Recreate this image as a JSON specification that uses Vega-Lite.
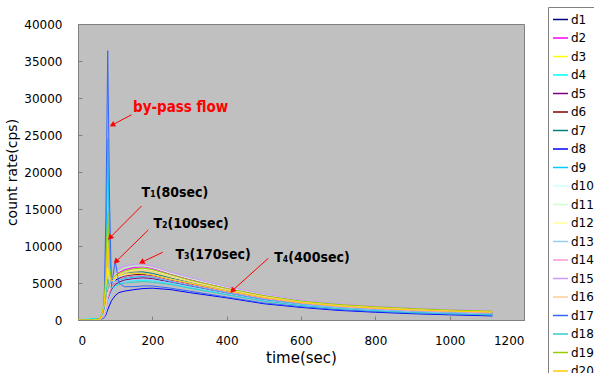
{
  "$schema": "https://vega.github.io/schema/vega-lite/v6.json",
  "width": 446,
  "height": 296,
  "autosize": {"type": "none"},
  "padding": {"left": 78, "top": 24, "right": 70, "bottom": 53},
  "background": "white",
  "config": {
    "view": {"fill": "#c0c0c0", "stroke": "#808080", "strokeWidth": 1},
    "axis": {
      "grid": false,
      "domainColor": "#808080",
      "tickColor": "#808080",
      "tickSize": -4,
      "labelOverlap": false,
      "labelFont": "DejaVu Sans",
      "labelFontSize": 12,
      "labelColor": "#000000",
      "titleFont": "DejaVu Sans",
      "titleFontWeight": "normal",
      "titleColor": "#000000"
    }
  },
  "datasets": {
    "series": [
      {"s":"d1","t":0,"v":0},{"s":"d1","t":40,"v":0},{"s":"d1","t":60,"v":100},{"s":"d1","t":70,"v":800},{"s":"d1","t":75,"v":1800},{"s":"d1","t":80,"v":3500},{"s":"d1","t":85,"v":4200},{"s":"d1","t":90,"v":4800},{"s":"d1","t":100,"v":5400},{"s":"d1","t":110,"v":5600},{"s":"d1","t":125,"v":5800},{"s":"d1","t":150,"v":6000},{"s":"d1","t":175,"v":6000},{"s":"d1","t":200,"v":5900},{"s":"d1","t":250,"v":5300},{"s":"d1","t":300,"v":4800},{"s":"d1","t":400,"v":3800},{"s":"d1","t":500,"v":2900},{"s":"d1","t":600,"v":2200},{"s":"d1","t":700,"v":1800},{"s":"d1","t":800,"v":1500},{"s":"d1","t":900,"v":1250},{"s":"d1","t":1000,"v":1100},{"s":"d1","t":1115,"v":950},
      {"s":"d2","t":0,"v":0},{"s":"d2","t":40,"v":0},{"s":"d2","t":60,"v":50},{"s":"d2","t":70,"v":600},{"s":"d2","t":75,"v":1500},{"s":"d2","t":80,"v":3000},{"s":"d2","t":85,"v":4000},{"s":"d2","t":90,"v":5000},{"s":"d2","t":100,"v":6000},{"s":"d2","t":110,"v":6400},{"s":"d2","t":125,"v":6800},{"s":"d2","t":150,"v":7100},{"s":"d2","t":175,"v":7200},{"s":"d2","t":200,"v":7000},{"s":"d2","t":250,"v":6200},{"s":"d2","t":300,"v":5500},{"s":"d2","t":400,"v":4300},{"s":"d2","t":500,"v":3300},{"s":"d2","t":600,"v":2600},{"s":"d2","t":700,"v":2100},{"s":"d2","t":800,"v":1800},{"s":"d2","t":900,"v":1550},{"s":"d2","t":1000,"v":1350},{"s":"d2","t":1115,"v":1200},
      {"s":"d3","t":0,"v":0},{"s":"d3","t":40,"v":50},{"s":"d3","t":60,"v":200},{"s":"d3","t":70,"v":1500},{"s":"d3","t":75,"v":4000},{"s":"d3","t":80,"v":7000},{"s":"d3","t":85,"v":5500},{"s":"d3","t":90,"v":5200},{"s":"d3","t":100,"v":5800},{"s":"d3","t":110,"v":6100},{"s":"d3","t":125,"v":6400},{"s":"d3","t":150,"v":6700},{"s":"d3","t":175,"v":6700},{"s":"d3","t":200,"v":6500},{"s":"d3","t":250,"v":5800},{"s":"d3","t":300,"v":5200},{"s":"d3","t":400,"v":4100},{"s":"d3","t":500,"v":3100},{"s":"d3","t":600,"v":2500},{"s":"d3","t":700,"v":2000},{"s":"d3","t":800,"v":1700},{"s":"d3","t":900,"v":1450},{"s":"d3","t":1000,"v":1300},{"s":"d3","t":1115,"v":1150},
      {"s":"d4","t":0,"v":0},{"s":"d4","t":40,"v":200},{"s":"d4","t":60,"v":150},{"s":"d4","t":70,"v":500},{"s":"d4","t":75,"v":1200},{"s":"d4","t":80,"v":2500},{"s":"d4","t":85,"v":3200},{"s":"d4","t":90,"v":3800},{"s":"d4","t":100,"v":4500},{"s":"d4","t":110,"v":4900},{"s":"d4","t":125,"v":5200},{"s":"d4","t":150,"v":5300},{"s":"d4","t":175,"v":5400},{"s":"d4","t":200,"v":5300},{"s":"d4","t":250,"v":4900},{"s":"d4","t":300,"v":4400},{"s":"d4","t":400,"v":3500},{"s":"d4","t":500,"v":2600},{"s":"d4","t":600,"v":2000},{"s":"d4","t":700,"v":1600},{"s":"d4","t":800,"v":1300},{"s":"d4","t":900,"v":1050},{"s":"d4","t":1000,"v":900},{"s":"d4","t":1115,"v":750},
      {"s":"d5","t":0,"v":0},{"s":"d5","t":40,"v":0},{"s":"d5","t":60,"v":100},{"s":"d5","t":70,"v":700},{"s":"d5","t":75,"v":1500},{"s":"d5","t":80,"v":2800},{"s":"d5","t":85,"v":3500},{"s":"d5","t":90,"v":4100},{"s":"d5","t":100,"v":4800},{"s":"d5","t":110,"v":5100},{"s":"d5","t":125,"v":5400},{"s":"d5","t":150,"v":5600},{"s":"d5","t":175,"v":5700},{"s":"d5","t":200,"v":5600},{"s":"d5","t":250,"v":5100},{"s":"d5","t":300,"v":4600},{"s":"d5","t":400,"v":3600},{"s":"d5","t":500,"v":2700},{"s":"d5","t":600,"v":2100},{"s":"d5","t":700,"v":1700},{"s":"d5","t":800,"v":1400},{"s":"d5","t":900,"v":1150},{"s":"d5","t":1000,"v":1000},{"s":"d5","t":1115,"v":850},
      {"s":"d6","t":0,"v":0},{"s":"d6","t":40,"v":0},{"s":"d6","t":60,"v":80},{"s":"d6","t":70,"v":600},{"s":"d6","t":75,"v":1400},{"s":"d6","t":80,"v":3000},{"s":"d6","t":85,"v":3800},{"s":"d6","t":90,"v":4500},{"s":"d6","t":100,"v":5200},{"s":"d6","t":110,"v":5600},{"s":"d6","t":125,"v":5900},{"s":"d6","t":150,"v":6100},{"s":"d6","t":175,"v":6200},{"s":"d6","t":200,"v":6000},{"s":"d6","t":250,"v":5400},{"s":"d6","t":300,"v":4900},{"s":"d6","t":400,"v":3900},{"s":"d6","t":500,"v":3000},{"s":"d6","t":600,"v":2300},{"s":"d6","t":700,"v":1850},{"s":"d6","t":800,"v":1550},{"s":"d6","t":900,"v":1300},{"s":"d6","t":1000,"v":1150},{"s":"d6","t":1115,"v":1000},
      {"s":"d7","t":0,"v":0},{"s":"d7","t":40,"v":0},{"s":"d7","t":60,"v":120},{"s":"d7","t":70,"v":900},{"s":"d7","t":75,"v":2000},{"s":"d7","t":80,"v":3800},{"s":"d7","t":85,"v":4600},{"s":"d7","t":90,"v":5200},{"s":"d7","t":100,"v":5900},{"s":"d7","t":110,"v":6200},{"s":"d7","t":125,"v":6400},{"s":"d7","t":150,"v":6500},{"s":"d7","t":175,"v":6500},{"s":"d7","t":200,"v":6300},{"s":"d7","t":250,"v":5700},{"s":"d7","t":300,"v":5100},{"s":"d7","t":400,"v":4000},{"s":"d7","t":500,"v":3100},{"s":"d7","t":600,"v":2400},{"s":"d7","t":700,"v":1950},{"s":"d7","t":800,"v":1650},{"s":"d7","t":900,"v":1400},{"s":"d7","t":1000,"v":1250},{"s":"d7","t":1115,"v":1100},
      {"s":"d8","t":0,"v":0},{"s":"d8","t":40,"v":0},{"s":"d8","t":60,"v":50},{"s":"d8","t":70,"v":300},{"s":"d8","t":75,"v":700},{"s":"d8","t":80,"v":1400},{"s":"d8","t":85,"v":2000},{"s":"d8","t":90,"v":2600},{"s":"d8","t":100,"v":3300},{"s":"d8","t":110,"v":3700},{"s":"d8","t":125,"v":3900},{"s":"d8","t":150,"v":4100},{"s":"d8","t":175,"v":4250},{"s":"d8","t":200,"v":4300},{"s":"d8","t":250,"v":4100},{"s":"d8","t":300,"v":3700},{"s":"d8","t":400,"v":3000},{"s":"d8","t":500,"v":2200},{"s":"d8","t":600,"v":1700},{"s":"d8","t":700,"v":1300},{"s":"d8","t":800,"v":1050},{"s":"d8","t":900,"v":850},{"s":"d8","t":1000,"v":700},{"s":"d8","t":1115,"v":550},
      {"s":"d9","t":0,"v":0},{"s":"d9","t":40,"v":100},{"s":"d9","t":60,"v":150},{"s":"d9","t":70,"v":1500},{"s":"d9","t":75,"v":8000},{"s":"d9","t":80,"v":24500},{"s":"d9","t":85,"v":9000},{"s":"d9","t":90,"v":5000},{"s":"d9","t":100,"v":5200},{"s":"d9","t":110,"v":5400},{"s":"d9","t":125,"v":5600},{"s":"d9","t":150,"v":5800},{"s":"d9","t":175,"v":5900},{"s":"d9","t":200,"v":5800},{"s":"d9","t":250,"v":5200},{"s":"d9","t":300,"v":4700},{"s":"d9","t":400,"v":3700},{"s":"d9","t":500,"v":2800},{"s":"d9","t":600,"v":2150},{"s":"d9","t":700,"v":1750},{"s":"d9","t":800,"v":1450},{"s":"d9","t":900,"v":1200},{"s":"d9","t":1000,"v":1050},{"s":"d9","t":1115,"v":900},
      {"s":"d10","t":0,"v":0},{"s":"d10","t":40,"v":0},{"s":"d10","t":60,"v":100},{"s":"d10","t":70,"v":700},{"s":"d10","t":75,"v":1600},{"s":"d10","t":80,"v":3200},{"s":"d10","t":85,"v":4000},{"s":"d10","t":90,"v":4700},{"s":"d10","t":100,"v":5500},{"s":"d10","t":110,"v":5900},{"s":"d10","t":125,"v":6100},{"s":"d10","t":150,"v":6300},{"s":"d10","t":175,"v":6300},{"s":"d10","t":200,"v":6100},{"s":"d10","t":250,"v":5500},{"s":"d10","t":300,"v":5000},{"s":"d10","t":400,"v":3950},{"s":"d10","t":500,"v":3050},{"s":"d10","t":600,"v":2350},{"s":"d10","t":700,"v":1900},{"s":"d10","t":800,"v":1600},{"s":"d10","t":900,"v":1350},{"s":"d10","t":1000,"v":1200},{"s":"d10","t":1115,"v":1050},
      {"s":"d11","t":0,"v":0},{"s":"d11","t":40,"v":0},{"s":"d11","t":60,"v":100},{"s":"d11","t":70,"v":800},{"s":"d11","t":75,"v":1900},{"s":"d11","t":80,"v":3600},{"s":"d11","t":85,"v":4500},{"s":"d11","t":90,"v":5300},{"s":"d11","t":100,"v":6200},{"s":"d11","t":110,"v":6600},{"s":"d11","t":125,"v":7000},{"s":"d11","t":150,"v":7300},{"s":"d11","t":175,"v":7300},{"s":"d11","t":200,"v":7100},{"s":"d11","t":250,"v":6300},{"s":"d11","t":300,"v":5600},{"s":"d11","t":400,"v":4400},{"s":"d11","t":500,"v":3400},{"s":"d11","t":600,"v":2650},{"s":"d11","t":700,"v":2150},{"s":"d11","t":800,"v":1850},{"s":"d11","t":900,"v":1600},{"s":"d11","t":1000,"v":1400},{"s":"d11","t":1115,"v":1250},
      {"s":"d12","t":0,"v":0},{"s":"d12","t":40,"v":0},{"s":"d12","t":60,"v":80},{"s":"d12","t":70,"v":700},{"s":"d12","t":75,"v":1700},{"s":"d12","t":80,"v":3400},{"s":"d12","t":85,"v":4300},{"s":"d12","t":90,"v":5000},{"s":"d12","t":100,"v":5900},{"s":"d12","t":110,"v":6200},{"s":"d12","t":125,"v":6500},{"s":"d12","t":150,"v":6800},{"s":"d12","t":175,"v":6900},{"s":"d12","t":200,"v":6700},{"s":"d12","t":250,"v":6000},{"s":"d12","t":300,"v":5300},{"s":"d12","t":400,"v":4200},{"s":"d12","t":500,"v":3200},{"s":"d12","t":600,"v":2500},{"s":"d12","t":700,"v":2050},{"s":"d12","t":800,"v":1750},{"s":"d12","t":900,"v":1500},{"s":"d12","t":1000,"v":1300},{"s":"d12","t":1115,"v":1150},
      {"s":"d13","t":0,"v":0},{"s":"d13","t":40,"v":0},{"s":"d13","t":60,"v":60},{"s":"d13","t":70,"v":400},{"s":"d13","t":75,"v":1000},{"s":"d13","t":80,"v":2200},{"s":"d13","t":85,"v":3000},{"s":"d13","t":90,"v":3700},{"s":"d13","t":100,"v":4500},{"s":"d13","t":110,"v":4900},{"s":"d13","t":125,"v":5200},{"s":"d13","t":150,"v":5400},{"s":"d13","t":175,"v":5500},{"s":"d13","t":200,"v":5400},{"s":"d13","t":250,"v":5000},{"s":"d13","t":300,"v":4500},{"s":"d13","t":400,"v":3550},{"s":"d13","t":500,"v":2650},{"s":"d13","t":600,"v":2050},{"s":"d13","t":700,"v":1650},{"s":"d13","t":800,"v":1350},{"s":"d13","t":900,"v":1100},{"s":"d13","t":1000,"v":950},{"s":"d13","t":1115,"v":800},
      {"s":"d14","t":0,"v":0},{"s":"d14","t":40,"v":0},{"s":"d14","t":60,"v":90},{"s":"d14","t":70,"v":600},{"s":"d14","t":75,"v":1400},{"s":"d14","t":80,"v":2900},{"s":"d14","t":85,"v":3700},{"s":"d14","t":90,"v":4400},{"s":"d14","t":100,"v":5200},{"s":"d14","t":110,"v":5500},{"s":"d14","t":125,"v":5800},{"s":"d14","t":150,"v":6000},{"s":"d14","t":175,"v":6000},{"s":"d14","t":200,"v":5900},{"s":"d14","t":250,"v":5300},{"s":"d14","t":300,"v":4800},{"s":"d14","t":400,"v":3800},{"s":"d14","t":500,"v":2900},{"s":"d14","t":600,"v":2250},{"s":"d14","t":700,"v":1800},{"s":"d14","t":800,"v":1500},{"s":"d14","t":900,"v":1250},{"s":"d14","t":1000,"v":1100},{"s":"d14","t":1115,"v":950},
      {"s":"d15","t":0,"v":0},{"s":"d15","t":40,"v":0},{"s":"d15","t":60,"v":100},{"s":"d15","t":70,"v":700},{"s":"d15","t":75,"v":1700},{"s":"d15","t":80,"v":3400},{"s":"d15","t":85,"v":4500},{"s":"d15","t":90,"v":5500},{"s":"d15","t":100,"v":6500},{"s":"d15","t":110,"v":7000},{"s":"d15","t":125,"v":7300},{"s":"d15","t":150,"v":7500},{"s":"d15","t":175,"v":7600},{"s":"d15","t":200,"v":7300},{"s":"d15","t":250,"v":6500},{"s":"d15","t":300,"v":5800},{"s":"d15","t":400,"v":4500},{"s":"d15","t":500,"v":3500},{"s":"d15","t":600,"v":2700},{"s":"d15","t":700,"v":2200},{"s":"d15","t":800,"v":1900},{"s":"d15","t":900,"v":1650},{"s":"d15","t":1000,"v":1450},{"s":"d15","t":1115,"v":1300},
      {"s":"d16","t":0,"v":0},{"s":"d16","t":40,"v":0},{"s":"d16","t":60,"v":90},{"s":"d16","t":70,"v":800},{"s":"d16","t":75,"v":1800},{"s":"d16","t":80,"v":3500},{"s":"d16","t":85,"v":4300},{"s":"d16","t":90,"v":5000},{"s":"d16","t":100,"v":5800},{"s":"d16","t":110,"v":6100},{"s":"d16","t":125,"v":6400},{"s":"d16","t":150,"v":6600},{"s":"d16","t":175,"v":6700},{"s":"d16","t":200,"v":6500},{"s":"d16","t":250,"v":5800},{"s":"d16","t":300,"v":5200},{"s":"d16","t":400,"v":4100},{"s":"d16","t":500,"v":3150},{"s":"d16","t":600,"v":2450},{"s":"d16","t":700,"v":2000},{"s":"d16","t":800,"v":1700},{"s":"d16","t":900,"v":1450},{"s":"d16","t":1000,"v":1300},{"s":"d16","t":1115,"v":1150},
      {"s":"d17","t":0,"v":0},{"s":"d17","t":40,"v":0},{"s":"d17","t":60,"v":200},{"s":"d17","t":70,"v":1500},{"s":"d17","t":75,"v":14000},{"s":"d17","t":80,"v":36400},{"s":"d17","t":85,"v":16000},{"s":"d17","t":90,"v":4500},{"s":"d17","t":100,"v":8000},{"s":"d17","t":110,"v":5000},{"s":"d17","t":125,"v":4500},{"s":"d17","t":150,"v":4500},{"s":"d17","t":175,"v":4600},{"s":"d17","t":200,"v":4600},{"s":"d17","t":250,"v":4300},{"s":"d17","t":300,"v":3900},{"s":"d17","t":400,"v":3100},{"s":"d17","t":500,"v":2300},{"s":"d17","t":600,"v":1800},{"s":"d17","t":700,"v":1400},{"s":"d17","t":800,"v":1150},{"s":"d17","t":900,"v":950},{"s":"d17","t":1000,"v":800},{"s":"d17","t":1115,"v":650},
      {"s":"d18","t":0,"v":0},{"s":"d18","t":40,"v":0},{"s":"d18","t":60,"v":150},{"s":"d18","t":70,"v":1500},{"s":"d18","t":75,"v":3500},{"s":"d18","t":80,"v":5500},{"s":"d18","t":85,"v":4500},{"s":"d18","t":90,"v":4300},{"s":"d18","t":100,"v":4600},{"s":"d18","t":110,"v":4800},{"s":"d18","t":125,"v":5000},{"s":"d18","t":150,"v":5100},{"s":"d18","t":175,"v":5200},{"s":"d18","t":200,"v":5100},{"s":"d18","t":250,"v":4800},{"s":"d18","t":300,"v":4300},{"s":"d18","t":400,"v":3400},{"s":"d18","t":500,"v":2550},{"s":"d18","t":600,"v":1950},{"s":"d18","t":700,"v":1550},{"s":"d18","t":800,"v":1250},{"s":"d18","t":900,"v":1000},{"s":"d18","t":1000,"v":850},{"s":"d18","t":1115,"v":700},
      {"s":"d19","t":0,"v":0},{"s":"d19","t":40,"v":0},{"s":"d19","t":60,"v":200},{"s":"d19","t":70,"v":2000},{"s":"d19","t":75,"v":7000},{"s":"d19","t":80,"v":14500},{"s":"d19","t":85,"v":7000},{"s":"d19","t":90,"v":5500},{"s":"d19","t":100,"v":6000},{"s":"d19","t":110,"v":6300},{"s":"d19","t":125,"v":6600},{"s":"d19","t":150,"v":6900},{"s":"d19","t":175,"v":7000},{"s":"d19","t":200,"v":6800},{"s":"d19","t":250,"v":6100},{"s":"d19","t":300,"v":5400},{"s":"d19","t":400,"v":4250},{"s":"d19","t":500,"v":3300},{"s":"d19","t":600,"v":2550},{"s":"d19","t":700,"v":2100},{"s":"d19","t":800,"v":1800},{"s":"d19","t":900,"v":1550},{"s":"d19","t":1000,"v":1350},{"s":"d19","t":1115,"v":1200},
      {"s":"d20","t":0,"v":0},{"s":"d20","t":40,"v":0},{"s":"d20","t":60,"v":150},{"s":"d20","t":70,"v":1800},{"s":"d20","t":75,"v":5000},{"s":"d20","t":80,"v":10500},{"s":"d20","t":85,"v":6000},{"s":"d20","t":90,"v":5200},{"s":"d20","t":100,"v":5700},{"s":"d20","t":110,"v":6000},{"s":"d20","t":125,"v":6200},{"s":"d20","t":150,"v":6300},{"s":"d20","t":175,"v":6300},{"s":"d20","t":200,"v":6100},{"s":"d20","t":250,"v":5500},{"s":"d20","t":300,"v":5000},{"s":"d20","t":400,"v":3950},{"s":"d20","t":500,"v":3050},{"s":"d20","t":600,"v":2350},{"s":"d20","t":700,"v":1900},{"s":"d20","t":800,"v":1600},{"s":"d20","t":900,"v":1350},{"s":"d20","t":1000,"v":1200},{"s":"d20","t":1115,"v":1050}
    ],
    "notes": [
      {"k":"bp","label":"by-pass flow","t":148,"v":28780},
      {"k":"T1","label":"T₁(80sec)","t":171,"v":17200},
      {"k":"T2","label":"T₂(100sec)","t":203,"v":12970},
      {"k":"T3","label":"T₃(170sec)","t":262,"v":8720},
      {"k":"T4","label":"T₄(400sec)","t":528,"v":8340}
    ],
    "arrows": [
      {"k":"bp","t":144,"v":27740,"t2":92,"v2":26350},
      {"k":"T1","t":171,"v":15400,"t2":86,"v2":11120},
      {"k":"T2","t":189,"v":12160,"t2":102,"v2":7880},
      {"k":"T3","t":228,"v":9150,"t2":171,"v2":7800},
      {"k":"T4","t":512,"v":8340,"t2":415,"v2":3960}
    ],
    "heads": [
      {"k":"bp","t":92,"v":26350},
      {"k":"T1","t":86,"v":11120},
      {"k":"T2","t":102,"v":7880},
      {"k":"T3","t":171,"v":7800},
      {"k":"T4","t":415,"v":3960}
    ]
  },
  "encoding": {
    "x": {"field": "t", "type": "quantitative", "title": "time(sec)",
          "scale": {"domain": [0, 1200], "nice": false},
          "axis": {"values": [0,200,400,600,800,1000,1200], "format": "d", "labelOverlap": false, "labelPadding": 19, "titleFontSize": 15, "titlePadding": 4}},
    "y": {"field": "v", "type": "quantitative", "title": "count rate(cps)",
          "scale": {"domain": [0, 40000], "nice": false},
          "axis": {"values": [0,5000,10000,15000,20000,25000,30000,35000,40000], "tickCount": 9, "labelOverlap": false, "labelPadding": 20, "titleFontSize": 14, "titlePadding": 4, "format": "d"}}
  },
  "layer": [
    {
      "data": {"name": "series"},
      "mark": {"type": "line", "strokeWidth": 1, "clip": true},
      "encoding": {
        "color": {
          "field": "s", "type": "nominal",
          "scale": {
            "domain": ["d1","d2","d3","d4","d5","d6","d7","d8","d9","d10","d11","d12","d13","d14","d15","d16","d17","d18","d19","d20"],
            "range": ["#000080","#ff00ff","#ffff00","#00ffff","#800080","#800000","#008080","#0000ff","#00ccff","#ccffff","#ccffcc","#ffff99","#99ccff","#ff99cc","#cc99ff","#ffcc99","#3366ff","#33cccc","#99cc00","#ffcc00"]
          },
          "legend": {
            "title": null,
            "orient": "none",
            "legendX": 470,
            "legendY": -17,
            "direction": "vertical",
            "symbolType": "stroke",
            "symbolSize": 225,
            "symbolStrokeWidth": 1.5,
            "labelFont": "DejaVu Sans",
            "labelFontSize": 12,
            "labelColor": "#000000",
            "labelOffset": 2,
            "rowPadding": 3.5,
            "padding": 4,
            "strokeColor": "#808080",
            "fillColor": "#ffffff"
          }
        },
        "order": {"field": "t", "type": "quantitative"}
      }
    },
    {
      "data": {"name": "arrows"},
      "mark": {"type": "rule", "color": "#ff0000", "strokeWidth": 1},
      "encoding": {
        "x2": {"field": "t2"},
        "y2": {"field": "v2"}
      }
    },
    {
      "data": {"name": "heads"},
      "transform": [{"filter": {"field": "k", "oneOf": ["T1","T2","T4"]}}],
      "mark": {"type": "point", "shape": "triangle-down", "filled": true, "color": "#ff0000", "size": 40, "angle": 45, "opacity": 1}
    },
    {
      "data": {"name": "heads"},
      "transform": [{"filter": {"field": "k", "oneOf": ["bp","T3"]}}],
      "mark": {"type": "point", "shape": "triangle-down", "filled": true, "color": "#ff0000", "size": 40, "angle": 63, "opacity": 1}
    },
    {
      "data": {"name": "notes"},
      "transform": [{"filter": {"field": "k", "equal": "bp"}}],
      "mark": {"type": "text", "align": "left", "baseline": "middle", "font": "DejaVu Sans Condensed", "fontWeight": "bold", "fontSize": 15, "color": "#ff0000"},
      "encoding": {"text": {"field": "label"}}
    },
    {
      "data": {"name": "notes"},
      "transform": [{"filter": {"field": "k", "oneOf": ["T1","T2","T3","T4"]}}],
      "mark": {"type": "text", "align": "left", "baseline": "middle", "font": "DejaVu Sans Condensed", "fontWeight": "bold", "fontSize": 14, "color": "#000000"},
      "encoding": {"text": {"field": "label"}}
    }
  ]
}
